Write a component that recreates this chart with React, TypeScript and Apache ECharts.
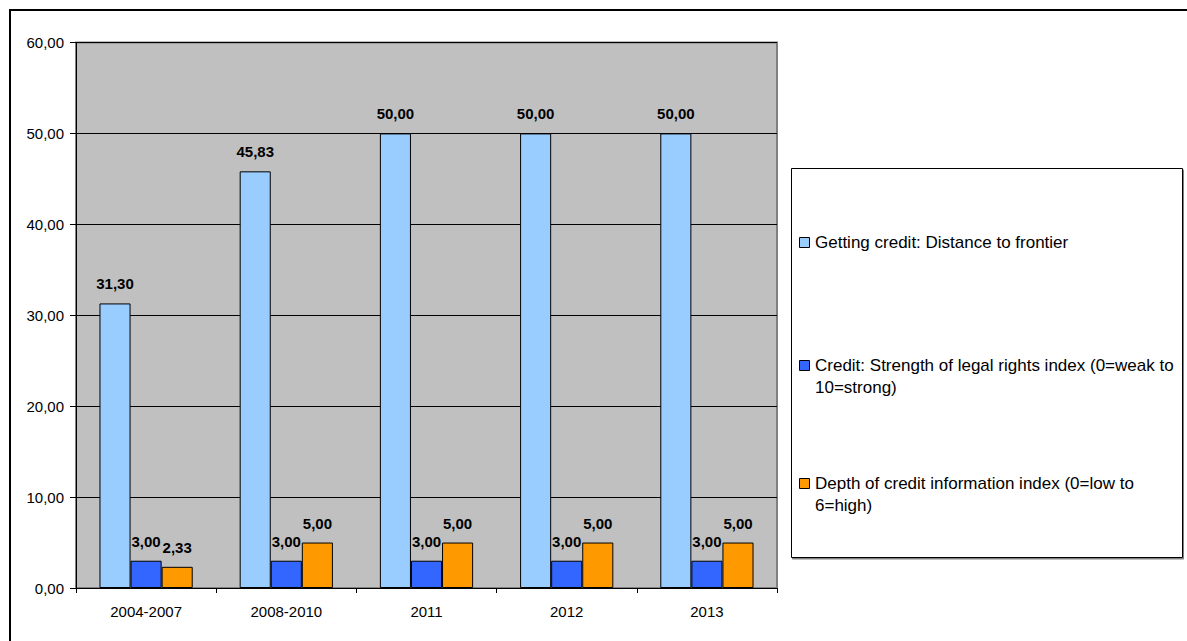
import React, { useEffect, useRef } from "react";
import * as echarts from "echarts";

const categories = ["2004-2007", "2008-2010", "2011", "2012", "2013"];
const seriesNames = [
  "Getting credit: Distance to frontier",
  "Credit: Strength of legal rights index (0=weak to 10=strong)",
  "Depth of credit information index (0=low to 6=high)",
];
const legendLabels = [
  "Getting credit: Distance to frontier",
  "Credit: Strength of legal rights index (0=weak to\n10=strong)",
  "Depth of credit information index (0=low to\n6=high)",
];
const distanceToFrontier = [31.3, 45.83, 50.0, 50.0, 50.0];
const legalRights = [3.0, 3.0, 3.0, 3.0, 3.0];
const creditInfo = [2.33, 5.0, 5.0, 5.0, 5.0];
const seriesValues = [distanceToFrontier, legalRights, creditInfo];
const colors = ["#99CCFF", "#3366FF", "#FF9900"];
const yTicks = [0, 10, 20, 30, 40, 50, 60];

const fmt = (v: number) => v.toFixed(2).replace(".", ",");
const FONT = "'Liberation Sans', Arial, sans-serif";

export default function App() {
  const ref = useRef<HTMLDivElement>(null);
  useEffect(() => {
    if (!ref.current) return;
    const chart = echarts.init(ref.current, undefined, { renderer: "svg" });
    const legendY = [242, 365, 483];
    const legendGraphics: any[] = [];
    legendLabels.forEach((lab, i) => {
      legendGraphics.push({
        type: "rect",
        shape: { x: 799.5, y: legendY[i] - 4.5, width: 10, height: 10 },
        style: { fill: colors[i], stroke: "#000", lineWidth: 1 },
      });
      legendGraphics.push({
        type: "text",
        x: 815,
        y: legendY[i] - 11,
        style: {
          text: lab,
          font: `17px ${FONT}`,
          fill: "#000",
          lineHeight: 22,
          verticalAlign: "top",
        },
      });
    });
    chart.setOption({
      animation: false,
      backgroundColor: "#fff",
      textStyle: { fontFamily: FONT },
      grid: {
        left: 76,
        right: 410,
        top: 42.5,
        bottom: 53,
        show: true,
        backgroundColor: "#C0C0C0",
        borderColor: "#808080",
        borderWidth: 2,
      },
      xAxis: {
        type: "category",
        data: categories,
        axisLine: { lineStyle: { color: "#000", width: 1 } },
        axisTick: { show: true, alignWithLabel: false, length: 5, lineStyle: { color: "#000" } },
        axisLabel: { color: "#000", fontSize: 15, margin: 16, fontFamily: FONT },
      },
      yAxis: {
        type: "value",
        min: yTicks[0],
        max: yTicks[yTicks.length - 1],
        interval: 10,
        axisLine: { show: true, lineStyle: { color: "#000", width: 1 } },
        axisTick: { show: true, length: 6, lineStyle: { color: "#000" } },
        axisLabel: { color: "#000", fontSize: 15, margin: 12, fontFamily: FONT, formatter: (v: number) => fmt(v) },
        splitLine: { show: true, lineStyle: { color: "#000", width: 1 } },
      },
      series: seriesValues.map((vals, i) => ({
        name: seriesNames[i],
        type: "bar",
        data: vals,
        barGap: "0%",
        barCategoryGap: "33.5%",
        itemStyle: { color: colors[i], borderColor: "#000", borderWidth: 1 },
        label: {
          show: true,
          position: "top",
          distance: 12,
          color: "#000",
          fontWeight: "bold",
          fontSize: 15,
          fontFamily: FONT,
          formatter: (p: any) => fmt(p.value),
        },
      })),
      graphic: [
        {
          type: "rect",
          shape: { x: 10, y: 10, width: 1300, height: 800 },
          style: { fill: "none", stroke: "#000", lineWidth: 2 },
          silent: true,
        },
        {
          type: "rect",
          shape: { x: 791.5, y: 168.5, width: 391, height: 389 },
          style: { fill: "#fff", stroke: "#000", lineWidth: 1, shadowColor: "#808080", shadowOffsetX: 1, shadowOffsetY: 1.5, shadowBlur: 0 },
          silent: true,
        },
        ...legendGraphics,
      ],
    });
    return () => chart.dispose();
  }, []);
  return (
    <div
      ref={ref}
      style={{ position: "fixed", left: 0, top: 0, width: 1187, height: 641 }}
    />
  );
}
